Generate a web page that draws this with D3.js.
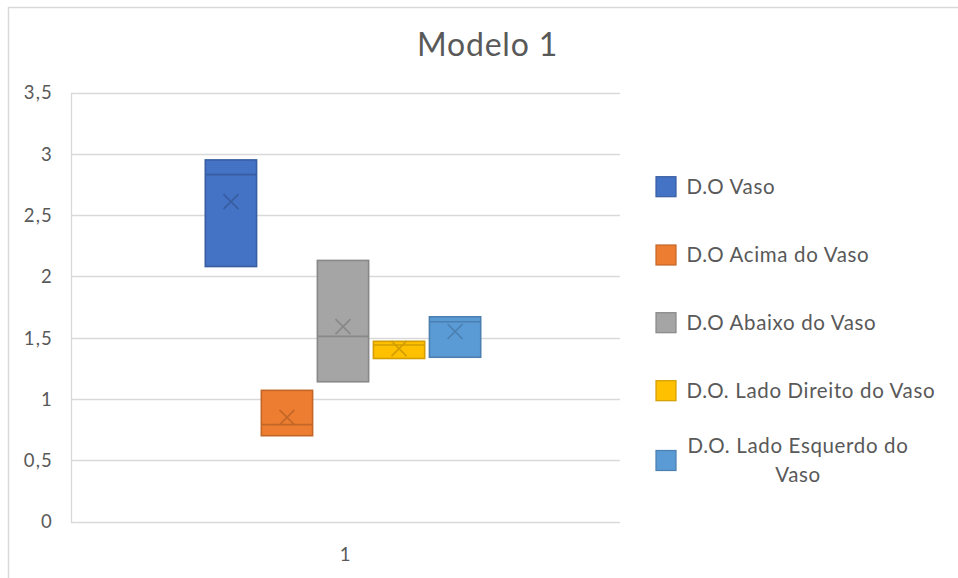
<!DOCTYPE html>
<html>
<head>
<meta charset="utf-8">
<script src="https://cdn.jsdelivr.net/npm/d3@7"></script>
<style>
  html, body { margin: 0; padding: 0; background: #fff; }
  svg { display: block; }
  text { font-family: Lato, "Open Sans", sans-serif; fill: #595959; }
</style>
</head>
<body>
<svg id="chart" width="958" height="578"></svg>
<script>
// ---- data ----
const categories = ["1"];
const seriesNames = ["D.O Vaso", "D.O Acima do Vaso", "D.O Abaixo do Vaso", "D.O. Lado Direito do Vaso", "D.O. Lado Esquerdo do Vaso"];
const q1Values     = [2.08, 0.70, 1.14, 1.33, 1.34];
const medianValues = [2.83, 0.79, 1.51, 1.44, 1.63];
const q3Values     = [2.95, 1.07, 2.13, 1.47, 1.67];
const meanValues   = [2.61, 0.85, 1.59, 1.41, 1.55];
const yTicks = [0, 0.5, 1, 1.5, 2, 2.5, 3, 3.5];
const seriesColors = ["#4472C4", "#ED7D31", "#A5A5A5", "#FFC000", "#5B9BD5"];
const chartTitle = "Modelo 1";

// ---- layout ----
const svg = d3.select("#chart");
const plot = { left: 71, right: 620, top: 92.5, bottom: 521.5 };

const fmt = v => String(v).replace(".", ",");

// chart border
svg.append("path")
  .attr("d", `M8.5,578 L8.5,7.5 L958,7.5`)
  .attr("fill", "none").attr("stroke", "#d9d9d9").attr("stroke-width", 1.5);

const y = d3.scaleLinear().domain([0, 3.5]).range([plot.bottom, plot.top]);
const x0 = d3.scaleBand().domain(categories).range([plot.left, plot.right - 5]).paddingOuter(0.4877).paddingInner(0);
const x1 = d3.scaleBand().domain(seriesNames).range([0, x0.bandwidth()]).paddingInner(0.085).paddingOuter(0);

// gridlines
svg.append("g").selectAll("line").data(yTicks).join("line")
  .attr("x1", plot.left).attr("x2", plot.right)
  .attr("y1", d => Math.round(y(d)) + 0.5).attr("y2", d => Math.round(y(d)) + 0.5)
  .attr("stroke", "#d9d9d9").attr("stroke-width", 1.3);
// vertical axis line
svg.append("line")
  .attr("x1", plot.left + 0.5).attr("x2", plot.left + 0.5)
  .attr("y1", Math.round(y(3.5)) + 0.5).attr("y2", Math.round(y(0)) + 0.5)
  .attr("stroke", "#d9d9d9").attr("stroke-width", 1.3);

// y axis labels
const yAxis = d3.axisLeft(y).tickValues(yTicks).tickFormat(fmt).tickSize(0).tickPadding(0);
const yg = svg.append("g").attr("transform", `translate(53,0)`).call(yAxis);
yg.select(".domain").remove();
yg.selectAll("text").attr("font-size", 18.5).attr("fill", "#595959")
  .style("font-family", "Lato, sans-serif").style("letter-spacing", "1.2px").attr("dy", "0.35em");

// x axis label
const xAxis = d3.axisBottom(x0).tickSize(0).tickPadding(0);
const xg = svg.append("g").attr("transform", `translate(2,${plot.bottom})`).call(xAxis);
xg.select(".domain").remove();
xg.selectAll("text").attr("font-size", 18.5).attr("fill", "#595959")
  .style("font-family", "Lato, sans-serif").attr("dy", "0").attr("y", 39);

// boxes
const boxData = seriesNames.map((s, i) => ({
  name: s, q1: q1Values[i], med: medianValues[i], q3: q3Values[i], mean: meanValues[i],
  color: seriesColors[i], stroke: d3.color(seriesColors[i]).darker(0.55).formatHex()
}));
const cat = categories[0];
const gBoxes = svg.append("g");
boxData.forEach(d => {
  const bx = x0(cat) + x1(d.name);
  const bw = x1.bandwidth();
  const g = gBoxes.append("g");
  g.append("rect")
    .attr("x", bx).attr("y", y(d.q3))
    .attr("width", bw).attr("height", y(d.q1) - y(d.q3))
    .attr("fill", d.color).attr("stroke", d.stroke).attr("stroke-width", 1.6);
  g.append("line")
    .attr("x1", bx).attr("x2", bx + bw)
    .attr("y1", y(d.med)).attr("y2", y(d.med))
    .attr("stroke", d.stroke).attr("stroke-width", 1.6);
  const cx = bx + bw / 2, cy = y(d.mean), r = 7.5;
  g.append("path")
    .attr("d", `M${cx - r},${cy - r}L${cx + r},${cy + r}M${cx - r},${cy + r}L${cx + r},${cy - r}`)
    .attr("stroke", d.stroke).attr("stroke-width", 1.6).attr("fill", "none");
});

// title
svg.append("text").text(chartTitle)
  .attr("x", 487.5).attr("y", 56)
  .attr("text-anchor", "middle").attr("font-size", 32).style("letter-spacing", "0.8px");

// legend
const legendY = [186.7, 255, 322.7, 390.7, 460.5];
const legendFont = 20.5, legendSpacing = "0.65px";
const lg = svg.append("g");
boxData.forEach((d, i) => {
  lg.append("rect")
    .attr("x", 656).attr("y", legendY[i] - 10)
    .attr("width", 20).attr("height", 20)
    .attr("fill", d.color).attr("stroke", d.stroke).attr("stroke-width", 1.2);
  if (i < 4) {
    lg.append("text").text(d.name)
      .attr("x", 686.5).attr("y", legendY[i]).attr("dy", "0.35em")
      .attr("font-size", legendFont).style("letter-spacing", legendSpacing);
  } else {
    const words = d.name.split(" ");
    const line1 = words.slice(0, -1).join(" ");
    const line2 = words[words.length - 1];
    lg.append("text").text(line1)
      .attr("x", 798).attr("y", legendY[i] - 14.5).attr("dy", "0.35em")
      .attr("text-anchor", "middle").attr("font-size", legendFont).style("letter-spacing", legendSpacing);
    lg.append("text").text(line2)
      .attr("x", 798).attr("y", legendY[i] + 14.5).attr("dy", "0.35em")
      .attr("text-anchor", "middle").attr("font-size", legendFont).style("letter-spacing", legendSpacing);
  }
});
</script>
</body>
</html>
